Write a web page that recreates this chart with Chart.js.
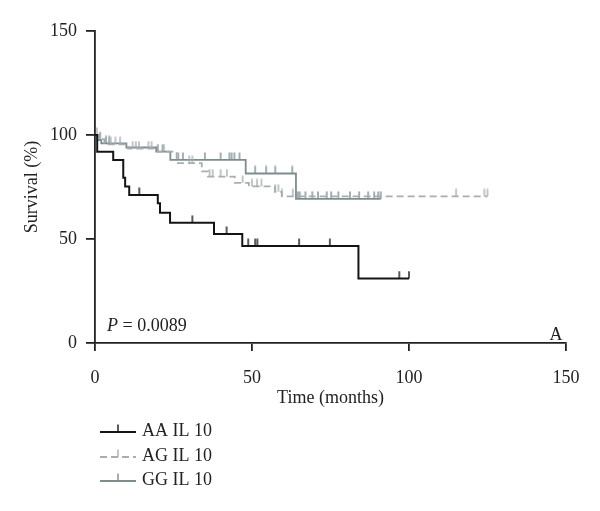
<!DOCTYPE html>
<html>
<head>
<meta charset="utf-8">
<script src="https://cdn.jsdelivr.net/npm/chart.js@4/dist/chart.umd.min.js"></script>
<style>
  html, body { margin: 0; padding: 0; background: #fff; }
  #wrap { width: 600px; height: 511px; }
</style>
</head>
<body>
<div id="wrap"><canvas id="kmChart" width="600" height="511"></canvas></div>
<script>
// ===== DATA =====
const groupNames = ["AA IL 10", "AG IL 10", "GG IL 10"];

// AA IL 10 : step times (months) and survival (%) after each step
const aaTimes = [0, 0.7, 5.8, 9.0, 9.6, 10.9, 20.0, 20.7, 23.9, 37.9, 46.9, 83.9];
const aaSurv = [100, 92, 88, 79.5, 75.3, 71.2, 67.2, 62.6, 57.8, 52.4, 46.6, 31];
const aaEnd = 100;
const aaCensored = [14.1, 31, 41.9, 48.8, 51, 51.7, 65, 74.8, 96.9, 100];

// AG IL 10
const agTimes = [0, 1.2, 3, 10.5, 20, 26, 34, 36, 44.5, 49, 57.3, 59.5];
const agSurv = [100, 98, 95.5, 93.5, 92, 86.5, 82.5, 80, 77, 75.3, 72.7, 70.5];
const agEnd = 125;
const agCensored = [0.6, 1.7, 5, 6.5, 8, 12, 13, 14, 17, 18, 22, 30, 31, 36.5, 37.5, 40, 42, 47, 50, 51.6, 53, 57.4, 58.4, 59.5, 63, 115, 124, 125];

// GG IL 10
const ggTimes = [0, 0.8, 2, 10, 19.5, 24, 48, 64];
const ggSurv = [100, 97.5, 96, 94, 92, 88, 81.5, 69.3];
const ggEnd = 91;
const ggCensored = [1.5, 3.5, 4.5, 20, 21.5, 26.5, 28, 35, 40, 42.8, 43.5, 44.4, 46, 51, 54.5, 57.4, 62.8, 64.6, 65.2, 67, 69.2, 71, 73.8, 75.2, 77.5, 81.2, 84.1, 87, 88.9, 90.2, 91];

const xTicks = [0, 50, 100, 150];
const yTicks = [0, 50, 100, 150];
const pValueText = "0.0089";
const panelLabel = "A";

// ===== STYLES =====
const FONT = "'Liberation Serif', 'DejaVu Serif', serif";
const aaColor = "#141414";
const agColor = "#a6aeb2";
const ggColor = "#7d8d8e";

// ===== HELPERS =====
function stepPoints(times, surv, end) {
  const pts = times.map((t, i) => ({ x: t, y: surv[i] }));
  pts.push({ x: end, y: surv[surv.length - 1] });
  return pts;
}

function survAt(times, surv, t) {
  let s = surv[0];
  for (let i = 0; i < times.length; i++) {
    if (times[i] <= t) s = surv[i];
  }
  return s;
}

function censorPoints(times, surv, cens) {
  return cens.map(t => ({ x: t, y: survAt(times, surv, t) }));
}

// small upward tick used as censor mark
function makeTick(color) {
  const c = document.createElement("canvas");
  c.width = 4;
  c.height = 16;
  const g = c.getContext("2d");
  g.strokeStyle = color;
  g.lineWidth = 1.4;
  g.beginPath();
  g.moveTo(2, 0.5);
  g.lineTo(2, 8);
  g.stroke();
  return c;
}

const aaTick = makeTick(aaColor);
const agTick = makeTick(agColor);
const ggTick = makeTick(ggColor);

// ===== EXTRA TEXT + LEGEND PLUGIN =====
const extrasPlugin = {
  id: "extras",
  afterDraw(chart) {
    const ctx = chart.ctx;
    const area = chart.chartArea;
    ctx.save();
    ctx.fillStyle = "#222";
    ctx.textBaseline = "middle";

    // P value
    ctx.font = "italic 18px " + FONT;
    ctx.textAlign = "left";
    ctx.fillText("P", area.left + 12, area.bottom - 17);
    const pw = ctx.measureText("P ").width;
    ctx.font = "18px " + FONT;
    ctx.fillText("= " + pValueText, area.left + 12 + pw, area.bottom - 17);

    // panel label
    ctx.textAlign = "center";
    ctx.fillText(panelLabel, area.right - 10, area.bottom - 8);

    // legend
    const styles = [
      { color: aaColor, dash: [], tick: aaTick },
      { color: agColor, dash: [7, 4], tick: agTick },
      { color: ggColor, dash: [], tick: ggTick },
    ];
    const rowY = [431, 456, 480];
    groupNames.forEach((name, i) => {
      const y = rowY[i] + 1;
      ctx.strokeStyle = styles[i].color;
      ctx.lineWidth = i === 0 ? 2 : 1.8;
      ctx.setLineDash(styles[i].dash);
      ctx.beginPath();
      ctx.moveTo(100, y);
      ctx.lineTo(136, y);
      ctx.stroke();
      ctx.setLineDash([]);
      ctx.drawImage(styles[i].tick, 118 - 2, y - 8);
      ctx.fillStyle = "#222";
      ctx.textAlign = "left";
      ctx.font = "18px " + FONT;
      ctx.fillText(name, 142, rowY[i]);
    });
    ctx.restore();
  },
};

// ===== CHART =====
const ctx = document.getElementById("kmChart").getContext("2d");

const kmChart = new Chart(ctx, {
  type: "line",
  data: {
    datasets: [
      {
        label: groupNames[0],
        data: stepPoints(aaTimes, aaSurv, aaEnd),
        borderColor: aaColor,
        borderWidth: 2,
        stepped: "before",
        pointRadius: 0,
        fill: false,
        order: 1,
      },
      {
        label: groupNames[1],
        data: stepPoints(agTimes, agSurv, agEnd),
        borderColor: agColor,
        borderWidth: 1.8,
        borderDash: [7, 4],
        stepped: "before",
        pointRadius: 0,
        fill: false,
        order: 2,
      },
      {
        label: groupNames[2],
        data: stepPoints(ggTimes, ggSurv, ggEnd),
        borderColor: ggColor,
        borderWidth: 1.8,
        stepped: "before",
        pointRadius: 0,
        fill: false,
        order: 3,
      },
      {
        label: "AA censored",
        data: censorPoints(aaTimes, aaSurv, aaCensored),
        showLine: false,
        pointStyle: aaTick,
        order: 1,
      },
      {
        label: "AG censored",
        data: censorPoints(agTimes, agSurv, agCensored),
        showLine: false,
        pointStyle: agTick,
        order: 2,
      },
      {
        label: "GG censored",
        data: censorPoints(ggTimes, ggSurv, ggCensored),
        showLine: false,
        pointStyle: ggTick,
        order: 3,
      },
    ],
  },
  options: {
    responsive: false,
    animation: false,
    events: [],
    layout: {
      padding: { left: 0, right: 34, top: 31, bottom: 99 },
    },
    scales: {
      x: {
        type: "linear",
        min: 0,
        max: 150,
        afterFit: (s) => { s.height = 69; },
        afterBuildTicks: (s) => { s.ticks = xTicks.map(v => ({ value: v })); },
        ticks: {
          color: "#222",
          padding: 16,
          font: { family: FONT, size: 18 },
        },
        grid: {
          drawOnChartArea: false,
          drawTicks: true,
          tickLength: 8,
          color: "#222",
          lineWidth: 1.8,
        },
        border: { color: "#222", width: 1.8 },
        title: {
          display: true,
          text: "Time (months)",
          color: "#222",
          font: { family: FONT, size: 18 },
          padding: { top: 4, bottom: 3 },
        },
      },
      y: {
        type: "linear",
        min: 0,
        max: 150,
        afterFit: (s) => { s.width = 95; },
        afterBuildTicks: (s) => { s.ticks = yTicks.map(v => ({ value: v })); },
        ticks: {
          color: "#222",
          padding: 9,
          font: { family: FONT, size: 18 },
        },
        grid: {
          drawOnChartArea: false,
          drawTicks: true,
          tickLength: 9,
          color: "#222",
          lineWidth: 1.8,
        },
        border: { color: "#222", width: 1.8 },
        title: {
          display: true,
          text: "Survival (%)",
          color: "#222",
          font: { family: FONT, size: 18 },
          padding: { top: 21, bottom: 4 },
        },
      },
    },
    plugins: {
      legend: { display: false },
      tooltip: { enabled: false },
    },
  },
  plugins: [extrasPlugin],
});
</script>
</body>
</html>
